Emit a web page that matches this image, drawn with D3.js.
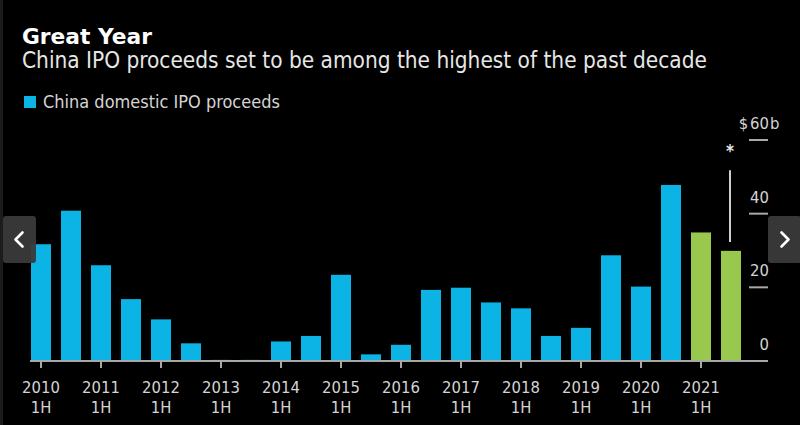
<!DOCTYPE html>
<html>
<head>
<meta charset="utf-8">
<script src="https://cdn.jsdelivr.net/npm/d3@7"></script>
<style>
  html, body { margin: 0; padding: 0; background: #000; }
  svg { display: block; }
</style>
</head>
<body>
<svg id="chart" width="800" height="425"></svg>
<script>
// ---------- data ----------
const periods = [
  "2010 1H","2010 2H","2011 1H","2011 2H","2012 1H","2012 2H",
  "2013 1H","2013 2H","2014 1H","2014 2H","2015 1H","2015 2H",
  "2016 1H","2016 2H","2017 1H","2017 2H","2018 1H","2018 2H",
  "2019 1H","2019 2H","2020 1H","2020 2H","2021 1H","2021 2H"
];
const proceeds = [
  31.7, 40.8, 26.0, 16.8, 11.3, 4.8,
  0.3, 0.3, 5.3, 6.8, 23.4, 1.8,
  4.4, 19.3, 19.9, 15.9, 14.3, 6.8,
  9.0, 28.7, 20.2, 47.8, 34.9, 29.9
];
const projectedPeriods = ["2021 1H", "2021 2H"];
const annotationPeriod = "2021 2H";
const annotationRange = [32.3, 51.8];
const yTicks = [0, 20, 40, 60];
const titleText = "Great Year";
const subtitleText = "China IPO proceeds set to be among the highest of the past decade";
const legendText = "China domestic IPO proceeds";

// ---------- setup ----------
const FONT = "'DejaVu Sans Condensed', 'DejaVu Sans', sans-serif";
const TITLE_FONT = "'DejaVu Sans', sans-serif";
const BLUE = "#0cb3e5";
const GREEN = "#98c94e";
const AXIS = "#a8a8a8";
const LABEL = "#d4d4d4";

const svg = d3.select("#chart");
svg.append("rect").attr("width", 800).attr("height", 425).attr("fill", "#000");
svg.append("rect").attr("x", 0).attr("y", 0).attr("width", 3).attr("height", 425).attr("fill", "#1c1c1c");

function fit(sel, target) {
  const len = sel.node().getComputedTextLength();
  const fs = parseFloat(sel.attr("font-size"));
  sel.attr("font-size", (fs * target / len).toFixed(2));
  return sel;
}

// titles
fit(svg.append("text").attr("x", 22).attr("y", 44)
  .attr("font-family", TITLE_FONT).attr("font-weight", "bold").attr("font-size", 21)
  .attr("fill", "#ffffff").text(titleText), 130);
fit(svg.append("text").attr("x", 22).attr("y", 68)
  .attr("font-family", FONT).attr("font-size", 20)
  .attr("fill", "#e6e6e6").text(subtitleText), 685);

// legend
svg.append("rect").attr("x", 24).attr("y", 96).attr("width", 12).attr("height", 12).attr("fill", BLUE);
fit(svg.append("text").attr("x", 43).attr("y", 108)
  .attr("font-family", FONT).attr("font-size", 16)
  .attr("fill", LABEL).text(legendText), 237);

// scales
const x = d3.scaleBand().domain(periods).range([26, 746]).paddingInner(1/3).paddingOuter(1/6);
const y = d3.scaleLinear().domain([0, 60]).range([361, 140]);

// bars
svg.append("g").selectAll("rect").data(periods).join("rect")
  .attr("x", d => x(d))
  .attr("width", x.bandwidth())
  .attr("y", (d, i) => y(proceeds[i]))
  .attr("height", (d, i) => y(0) - y(proceeds[i]))
  .attr("fill", d => projectedPeriods.includes(d) ? GREEN : BLUE);

// baseline
svg.append("line").attr("x1", 30).attr("x2", 768).attr("y1", y(0)).attr("y2", y(0))
  .attr("stroke", AXIS).attr("stroke-width", 2);

// x ticks and labels (only 1H periods)
const firstHalves = periods.filter(p => p.endsWith("1H"));
const xt = svg.append("g");
firstHalves.forEach(p => {
  const cx = x(p) + x.bandwidth() / 2;
  xt.append("line").attr("x1", cx).attr("x2", cx).attr("y1", y(0) + 1).attr("y2", y(0) + 7)
    .attr("stroke", AXIS).attr("stroke-width", 2);
  const [yr, h] = p.split(" ");
  xt.append("text").attr("x", cx).attr("y", 392.5).attr("text-anchor", "middle")
    .attr("font-family", FONT).attr("font-size", 16.5).attr("fill", LABEL).text(yr);
  xt.append("text").attr("x", cx).attr("y", 413).attr("text-anchor", "middle")
    .attr("font-family", FONT).attr("font-size", 16.5).attr("fill", LABEL).text(h);
});

// right y axis
const ya = svg.append("g");
yTicks.forEach(t => {
  if (t > 0) {
    ya.append("line").attr("x1", 749).attr("x2", 768).attr("y1", y(t)).attr("y2", y(t))
      .attr("stroke", AXIS).attr("stroke-width", 2);
  }
  const lbl = ya.append("text").attr("x", 769).attr("y", y(t) - 11).attr("text-anchor", "end")
    .attr("font-family", FONT).attr("font-size", 16.5).attr("fill", LABEL).text(t);
  if (t === d3.max(yTicks)) {
    const w = lbl.node().getComputedTextLength();
    ya.append("text").attr("x", 769 - w - 2).attr("y", y(t) - 11).attr("text-anchor", "end")
      .attr("font-family", FONT).attr("font-size", 16.5).attr("fill", LABEL).text("$");
    ya.append("text").attr("x", 770).attr("y", y(t) - 11).attr("text-anchor", "start")
      .attr("font-family", FONT).attr("font-size", 16.5).attr("fill", LABEL).text("b");
  }
});

// annotation line + asterisk
const ax = x(annotationPeriod) + x.bandwidth() / 2 - 1;
svg.append("line").attr("x1", ax).attr("x2", ax)
  .attr("y1", y(annotationRange[1])).attr("y2", y(annotationRange[0]))
  .attr("stroke", "#cfcfcf").attr("stroke-width", 2);
svg.append("text").attr("x", ax).attr("y", y(annotationRange[1]) - 13)
  .attr("text-anchor", "middle").attr("font-family", FONT).attr("font-size", 17)
  .attr("font-weight", "bold").attr("fill", "#e8e8e8").text("*");

// carousel navigation buttons
function navButton(x0, dir) {
  const g = svg.append("g");
  g.append("rect").attr("x", x0).attr("y", 216).attr("width", 33).attr("height", 47).attr("rx", 3)
    .attr("fill", "#3a3a3a").attr("opacity", 0.95);
  const cx = x0 + 16.5, cy = 239.5;
  const p = dir < 0
    ? `M${cx + 3},${cy - 7} L${cx - 4},${cy} L${cx + 3},${cy + 7}`
    : `M${cx - 3},${cy - 7} L${cx + 4},${cy} L${cx - 3},${cy + 7}`;
  g.append("path").attr("d", p).attr("fill", "none").attr("stroke", "#fff")
    .attr("stroke-width", 2.6).attr("stroke-linecap", "round").attr("stroke-linejoin", "round");
}
navButton(3, -1);
navButton(768, 1);
</script>
</body>
</html>
